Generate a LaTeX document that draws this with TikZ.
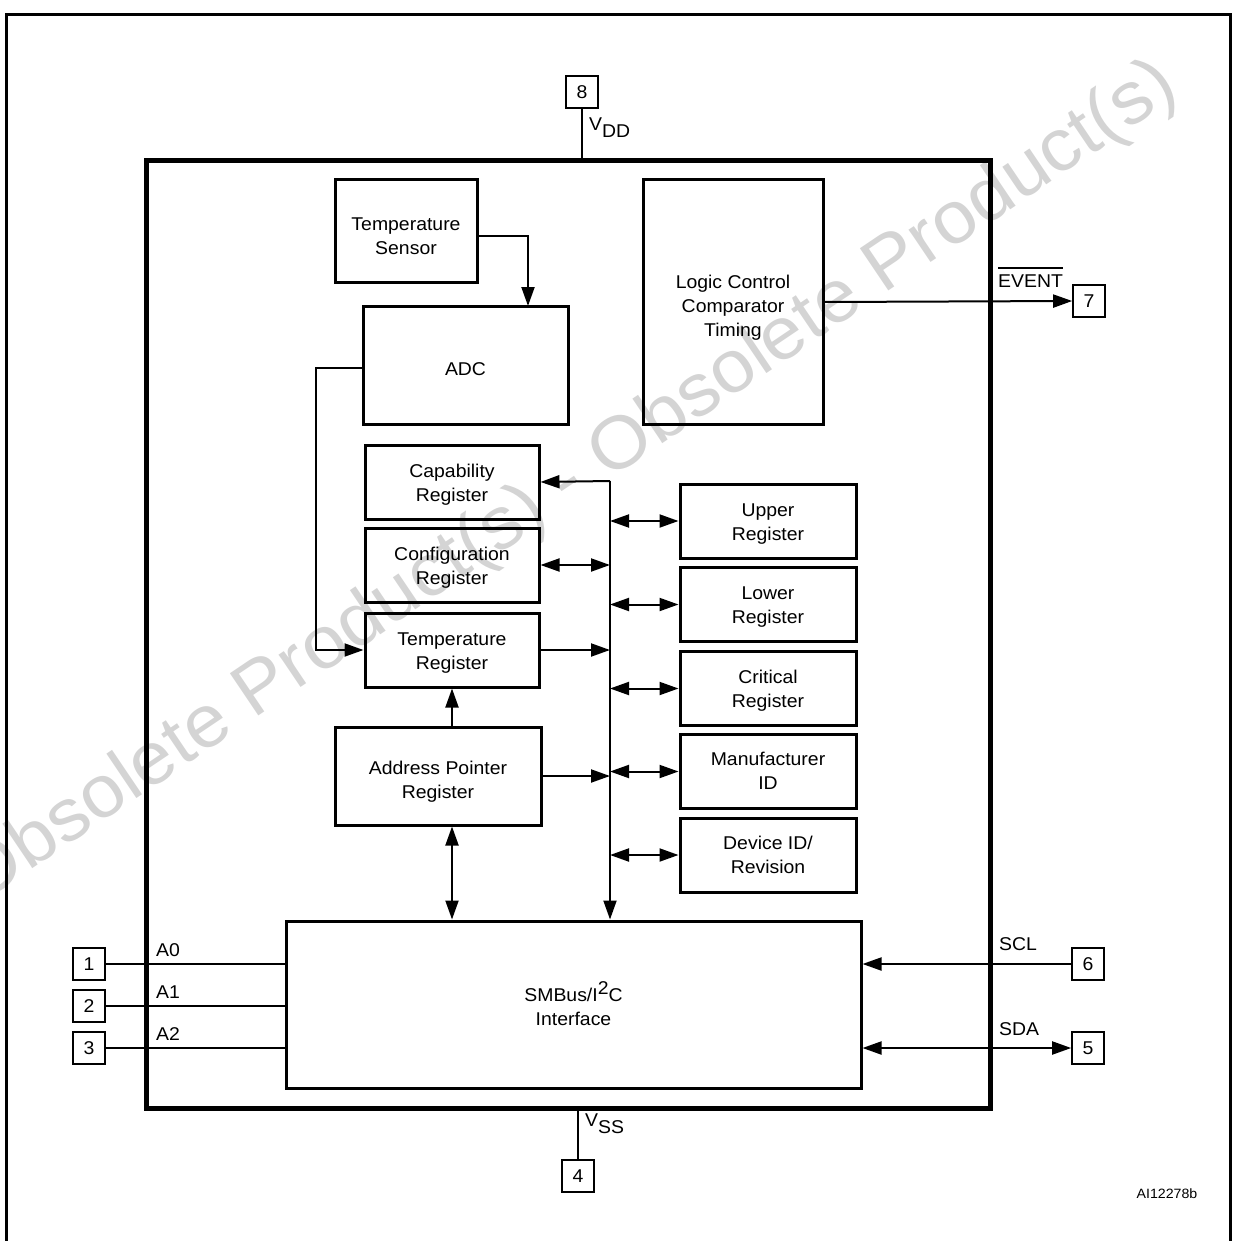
\documentclass[tikz,border=0pt]{standalone}
\usepackage{fontspec}
\setmainfont[FakeStretch=1.05]{Liberation Sans}
\usetikzlibrary{arrows.meta}
\newcommand\tx[2][2.5pt]{\raisebox{-#1}[\height][\depth]{\begin{tabular}{@{}c@{}}#2\end{tabular}}}
\begin{document}
\begin{tikzpicture}[x=1pt,y=-1pt,
  blk/.style={draw, line width=3pt, inner sep=0, font=\fontsize{18.5}{24}\selectfont},
  pinbox/.style={draw, line width=1.6pt, minimum size=32pt, inner sep=0, font=\fontsize{18.5}{20}\selectfont},
  wire/.style={line width=2pt},
  lbl/.style={anchor=base west, inner sep=0, font=\fontsize{18.5}{20}\selectfont},
  >={Triangle[length=19pt,width=13pt]}]
\useasboundingbox (0,0) rectangle (1233,1241);
% watermark
\node[text=black!17, rotate=34, inner sep=0, font=\fontsize{74}{76}\selectfont] (wm) at (569,484) {Obsolete Product(s) - Obsolete Product(s)};
% outer frame
\draw[line width=3pt] (6,1241) -- (6,15) -- (1230,15) -- (1230,1241);
% chip
\node[draw, line width=5pt, minimum width=844pt, minimum height=947pt, inner sep=0] (chip) at (568,634.5) {};
% blocks
\node[blk, minimum width=142pt, minimum height=102pt] (tsens) at (406,231) {\tx[7pt]{Temperature\\Sensor}};
\node[blk, minimum width=205pt, minimum height=118pt] (adc) at (465.5,365) {\tx[6pt]{ADC}};
\node[blk, minimum width=180pt, minimum height=244pt] (logic) at (733,302) {\tx[6pt]{Logic Control\\Comparator\\Timing}};
\node[blk, minimum width=174pt, minimum height=74pt] (cap) at (452,482) {\tx{Capability\\Register}};
\node[blk, minimum width=174pt, minimum height=74pt] (conf) at (452,565) {\tx{Configuration\\Register}};
\node[blk, minimum width=174pt, minimum height=74pt] (treg) at (452,650) {\tx{Temperature\\Register}};
\node[blk, minimum width=206pt, minimum height=98pt] (apr) at (438,776) {\tx[6pt]{Address Pointer\\Register}};
\node[blk, minimum width=176pt, minimum height=74pt] (upper) at (768,521) {\tx{Upper\\Register}};
\node[blk, minimum width=176pt, minimum height=74pt] (lower) at (768,604.5) {\tx{Lower\\Register}};
\node[blk, minimum width=176pt, minimum height=74pt] (crit) at (768,688.5) {\tx{Critical\\Register}};
\node[blk, minimum width=176pt, minimum height=74pt] (manu) at (768,771.5) {\tx[1.5pt]{Manufacturer\\ID}};
\node[blk, minimum width=176pt, minimum height=74pt] (dev) at (768,855) {\tx[1.5pt]{Device ID/\\Revision}};
\node[blk, minimum width=575pt, minimum height=167pt] (smb) at (573.5,1004.5) {\tx{SMBus/I\raisebox{7pt}{2}C\\Interface}};
% pins
\node[pinbox] (p8) at (582,92) {8};
\node[pinbox] (p7) at (1089,301) {7};
\node[pinbox] (p1) at (89,964) {1};
\node[pinbox] (p2) at (89,1006) {2};
\node[pinbox] (p3) at (89,1048) {3};
\node[pinbox] (p6) at (1088,964) {6};
\node[pinbox] (p5) at (1088,1048) {5};
\node[pinbox] (p4) at (578,1176) {4};
% pin labels
\node[lbl] (vdd) at (589,131) {V\raisebox{-7pt}{DD}};
\node[lbl] (vss) at (585,1126) {V\raisebox{-7pt}{SS}};
\node[lbl] (a0) at (156,956) {A0};
\node[lbl] (a1) at (156,998) {A1};
\node[lbl] (a2) at (156,1040) {A2};
\node[lbl] (scl) at (999,950) {SCL};
\node[lbl] (sda) at (999,1035) {SDA};
\node[lbl] (ev) at (998,287) {EVENT};
\draw[line width=1.3pt] ([yshift=6pt]ev.north west) -- ([yshift=6pt]ev.north east);
\node[inner sep=0, font=\fontsize{13.5}{15}\selectfont] (ai) at (1167,1194) {AI12278b};
% coordinates
\coordinate (adcin) at (528,306);
\coordinate (bustop) at (610,481);
% connectors
\draw[wire] (p8) -- (p8 |- chip.north);
\draw[wire] (p4) -- (p4 |- chip.south);
\draw[wire,->] ([yshift=-5pt]tsens.east) -| (adcin);
\draw[wire,->] ([yshift=-3pt]adc.west) -- ++(-46,0) |- (treg.west);
\draw[wire,->] (bustop) -- (bustop |- smb.north);
\draw[wire,->] (bustop) -- (cap.east);
\draw[wire,<->] (conf.east) -- (bustop |- conf.east);
\draw[wire,->] (treg.east) -- (bustop |- treg.east);
\draw[wire,->] (apr.east) -- (bustop |- apr.east);
\draw[wire,<->] (bustop |- upper.west) -- (upper.west);
\draw[wire,<->] (bustop |- lower.west) -- (lower.west);
\draw[wire,<->] (bustop |- crit.west) -- (crit.west);
\draw[wire,<->] (bustop |- manu.west) -- (manu.west);
\draw[wire,<->] (bustop |- dev.west) -- (dev.west);
\draw[wire,->] (apr.north -| treg.south) -- (treg.south);
\draw[wire,<->] (apr.south -| treg.south) -- (smb.north -| treg.south);
\draw[wire,->] (logic.east) -- (p7.west);
\draw[wire] (p1) -- (smb.west |- p1);
\draw[wire] (p2) -- (smb.west |- p2);
\draw[wire] (p3) -- (smb.west |- p3);
\draw[wire,->] (p6) -- (smb.east |- p6);
\draw[wire,<->] (smb.east |- p5) -- (p5);
\end{tikzpicture}
\end{document}
